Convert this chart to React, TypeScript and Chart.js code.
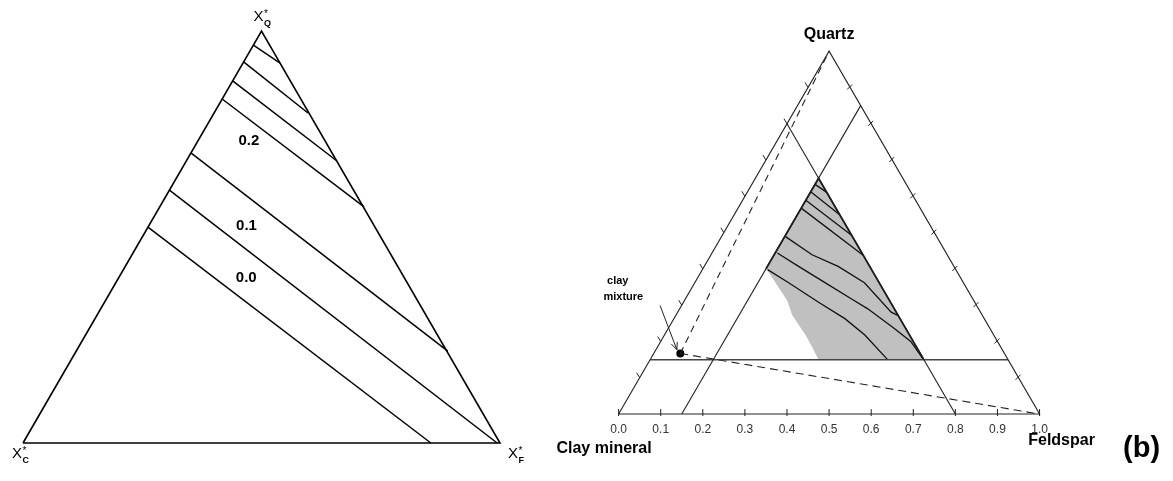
import React, { useEffect, useRef } from 'react';
import { Chart, registerables } from 'chart.js';

Chart.register(...registerables);

// ---------------- Panel (a): normalised sub-triangle (X*_C, X*_F, X*_Q) ----------------
// each contour starts on the X*_F = 0 edge and ends on the right edge or the base
const contourStartQ = [0.966, 0.925, 0.879, 0.835, 0.704, 0.614, 0.524];
const contourEndF = [0.078, 0.197, 0.316, 0.4285, 0.779, 0.994, 0.855];
const contourEndQ = [0.922, 0.801, 0.6845, 0.573, 0.223, 0.0, 0.0];
const regionLabels = ['0.2', '0.1', '0.0'];
const regionLabelF = [0.107, 0.205, 0.267];
const regionLabelQ = [0.733, 0.527, 0.402];

// ---------------- Panel (b): Clay mineral – Feldspar – Quartz ----------------
const axisTicks = [0.0, 0.1, 0.2, 0.3, 0.4, 0.5, 0.6, 0.7, 0.8, 0.9, 1.0];
const axisTickLabels = ['0.0', '0.1', '0.2', '0.3', '0.4', '0.5', '0.6', '0.7', '0.8', '0.9', '1.0'];
const edgeTicks = [0.1, 0.2, 0.3, 0.4, 0.5, 0.6, 0.7, 0.8, 0.9];
// limits of the feasible sub-triangle
const limitF = 0.15;
const limitC = 0.2;
const limitQ = 0.15;
// grey region: its lower-left boundary (F, Q)
const greyEdgeF = [0.15, 0.163, 0.215, 0.2445, 0.2765, 0.335, 0.366, 0.4];
const greyEdgeQ = [0.4, 0.389, 0.34, 0.3125, 0.272, 0.218, 0.186, 0.15];
// contour lines in (b): the three lower ones
const bLine5F = [0.152, 0.24, 0.318, 0.403, 0.507, 0.527];
const bLine5Q = [0.489, 0.439, 0.407, 0.362, 0.281, 0.272];
const bLine6F = [0.155, 0.224, 0.3, 0.395, 0.447, 0.537, 0.594, 0.644];
const bLine6Q = [0.444, 0.407, 0.367, 0.317, 0.29, 0.236, 0.2, 0.155];
const bLine7F = [0.155, 0.223, 0.321, 0.406, 0.476, 0.564];
const bLine7Q = [0.398, 0.362, 0.308, 0.263, 0.218, 0.15];
// clay mixture composition
const clayMixF = 0.063;
const clayMixQ = 0.167;
// annotation arrow (F, Q) tail -> head and the label anchors
const arrowF = [-0.051, 0.05];
const arrowQ = [0.299, 0.177];
const mixLabels = ['clay', 'mixture'];
const mixLabelF = [-0.185, -0.15];
const mixLabelQ = [0.366, 0.3225];

const FONT = '"Liberation Sans", Arial, Helvetica, sans-serif';

type Pt = { x: number; y: number };
const tern = (F: number, Q: number): Pt => ({ x: F + Q / 2, y: Q });
const SUB = 1 - limitF - limitC - limitQ;
const subToFull = (fs: number, qs: number): Pt => tern(limitF + SUB * fs, limitQ + SUB * qs);

const lineDs = (data: Pt[], extra: any = {}) => ({
  data,
  showLine: true,
  borderColor: '#000',
  borderWidth: 1.5,
  pointRadius: 0,
  fill: false,
  tension: 0,
  ...extra,
});

const baseOptions = (xmin: number, xmax: number, ymin: number, ymax: number) => ({
  animation: false,
  responsive: false,
  maintainAspectRatio: false,
  events: [],
  layout: { padding: 0 },
  plugins: { legend: { display: false }, tooltip: { enabled: false }, title: { display: false } },
  scales: {
    x: { type: 'linear', min: xmin, max: xmax, display: false },
    y: { type: 'linear', min: ymin, max: ymax, display: false },
  },
});

function pixel(chart: any, p: Pt): [number, number] {
  return [chart.scales.x.getPixelForValue(p.x), chart.scales.y.getPixelForValue(p.y)];
}

function drawXStar(ctx: CanvasRenderingContext2D, x: number, base: number, sub: string) {
  ctx.textAlign = 'left';
  ctx.textBaseline = 'alphabetic';
  ctx.font = `15px ${FONT}`;
  ctx.fillText('X', x, base);
  const w = ctx.measureText('X').width;
  ctx.font = `10px ${FONT}`;
  ctx.fillText('*', x + w + 0.5, base - 4.5);
  ctx.font = `bold 9px ${FONT}`;
  ctx.fillText(sub, x + w + 0.5, base + 4.5);
}

// ---------------- configs ----------------
function makeA() {
  const datasets: any[] = [
    lineDs([tern(0, 0), tern(1, 0), tern(0, 1), tern(0, 0)], { borderWidth: 1.6 }),
  ];
  contourStartQ.forEach((q, i) => {
    datasets.push(lineDs([tern(0, q), tern(contourEndF[i], contourEndQ[i])], { borderWidth: 1.5 }));
  });
  const plugin = {
    id: 'aDecor',
    afterDatasetsDraw(chart: any) {
      const ctx: CanvasRenderingContext2D = chart.ctx;
      ctx.save();
      ctx.fillStyle = '#000';
      const [qx, qy] = pixel(chart, tern(0, 1));
      const [cx, cy] = pixel(chart, tern(0, 0));
      const [fx, fy] = pixel(chart, tern(1, 0));
      drawXStar(ctx, qx - 8, qy - 10, 'Q');
      drawXStar(ctx, cx - 11, cy + 15, 'C');
      drawXStar(ctx, fx + 8, fy + 15, 'F');
      ctx.font = `bold 15px ${FONT}`;
      ctx.textAlign = 'center';
      ctx.textBaseline = 'middle';
      regionLabels.forEach((t, i) => {
        const [x, y] = pixel(chart, tern(regionLabelF[i], regionLabelQ[i]));
        ctx.fillText(t, x, y);
      });
      ctx.restore();
    },
  };
  return {
    type: 'scatter',
    data: { datasets },
    options: baseOptions(-23 / 477, 537 / 477, -38 / 412, 443 / 412),
    plugins: [plugin],
  } as any;
}

function makeB() {
  const dark = '#222';
  const datasets: any[] = [];
  // outer triangle
  datasets.push(lineDs([tern(0, 0), tern(1, 0), tern(0, 1), tern(0, 0)], { borderWidth: 1.1, borderColor: dark }));
  // limit lines
  datasets.push(lineDs([tern(limitF, 0), tern(limitF, 1 - limitF)], { borderWidth: 1.1, borderColor: dark }));
  datasets.push(lineDs([tern(0, 1 - limitC), tern(1 - limitC, 0)], { borderWidth: 1.1, borderColor: dark }));
  datasets.push(lineDs([tern(0, limitQ), tern(1 - limitQ, limitQ)], { borderWidth: 1.5, borderColor: '#444' }));
  // bold edges of the grey region
  datasets.push(
    lineDs([tern(limitF, greyEdgeQ[0]), subToFull(0, 1), subToFull(1, 0)], { borderWidth: 1.8, borderColor: '#111' })
  );
  // contour lines 1-4 (mapped from the normalised panel)
  for (let i = 0; i < 4; i++) {
    datasets.push(
      lineDs([subToFull(0, contourStartQ[i]), subToFull(contourEndF[i], contourEndQ[i])], {
        borderWidth: 1.3,
        borderColor: '#111',
      })
    );
  }
  [
    [bLine5F, bLine5Q],
    [bLine6F, bLine6Q],
    [bLine7F, bLine7Q],
  ].forEach(([fs, qs]) => {
    datasets.push(lineDs(fs.map((f, k) => tern(f, qs[k])), { borderWidth: 1.3, borderColor: '#111' }));
  });
  // dashed lines from the clay mixture to quartz and feldspar apexes
  const mix = tern(clayMixF, clayMixQ);
  datasets.push(lineDs([mix, tern(0, 1)], { borderWidth: 1.1, borderColor: dark, borderDash: [7, 5] }));
  datasets.push(lineDs([mix, tern(1, 0)], { borderWidth: 1.1, borderColor: dark, borderDash: [8, 5] }));
  // clay mixture point
  datasets.push({ data: [mix], showLine: false, pointRadius: 4, backgroundColor: '#000', borderColor: '#000', borderWidth: 0 });
  // grey feasible region (drawn first, at the bottom)
  const grey: Pt[] = [subToFull(0, 1)];
  greyEdgeF.forEach((f, k) => grey.push(tern(f, greyEdgeQ[k])));
  grey.push(subToFull(1, 0));
  grey.push(subToFull(0, 1));
  datasets.push({
    data: grey,
    showLine: true,
    pointRadius: 0,
    borderWidth: 1,
    borderColor: 'rgba(0,0,0,0)',
    backgroundColor: '#c0c0c0',
    fill: 'shape',
    tension: 0,
  });

  const plugin = {
    id: 'bDecor',
    afterDatasetsDraw(chart: any) {
      const ctx: CanvasRenderingContext2D = chart.ctx;
      ctx.save();
      ctx.strokeStyle = dark;
      ctx.lineWidth = 1;
      const seg = (x1: number, y1: number, x2: number, y2: number) => {
        ctx.beginPath();
        ctx.moveTo(x1, y1);
        ctx.lineTo(x2, y2);
        ctx.stroke();
      };
      // bottom axis ticks & labels
      ctx.fillStyle = '#333';
      ctx.font = `12px ${FONT}`;
      ctx.textAlign = 'center';
      ctx.textBaseline = 'middle';
      axisTicks.forEach((t, i) => {
        const [x, y] = pixel(chart, tern(t, 0));
        seg(x, y - 5, x, y + 2);
        ctx.fillText(axisTickLabels[i], x, y + 16);
      });
      // side ticks
      edgeTicks.forEach((q) => {
        const [lx, ly] = pixel(chart, tern(0, q));
        seg(lx, ly, lx - 3, ly - 5);
        const [rx, ry] = pixel(chart, tern(1 - q, q));
        seg(rx - 3, ry + 2, rx + 2, ry - 3);
      });
      // arrow
      const [ax1, ay1] = pixel(chart, tern(arrowF[0], arrowQ[0]));
      const [ax2, ay2] = pixel(chart, tern(arrowF[1], arrowQ[1]));
      seg(ax1, ay1, ax2, ay2);
      const ang = Math.atan2(ay2 - ay1, ax2 - ax1);
      const hl = 8;
      seg(ax2, ay2, ax2 - hl * Math.cos(ang - 0.4), ay2 - hl * Math.sin(ang - 0.4));
      seg(ax2, ay2, ax2 - hl * Math.cos(ang + 0.4), ay2 - hl * Math.sin(ang + 0.4));
      // titles
      ctx.fillStyle = '#000';
      const [qx, qy] = pixel(chart, tern(0, 1));
      const [cx, cy] = pixel(chart, tern(0, 0));
      const [fx, fy] = pixel(chart, tern(1, 0));
      ctx.font = `bold 16px ${FONT}`;
      ctx.textAlign = 'center';
      ctx.fillText('Quartz', qx, qy - 17);
      ctx.fillText('Feldspar', fx + 22, fy + 27);
      ctx.textAlign = 'right';
      ctx.fillText('Clay mineral', cx + 33, cy + 35);
      ctx.textAlign = 'center';
      ctx.font = `bold 29px ${FONT}`;
      ctx.fillText('(b)', fx + 102, fy + 35);
      ctx.font = `bold 11px ${FONT}`;
      mixLabels.forEach((t, i) => {
        const [x, y] = pixel(chart, tern(mixLabelF[i], mixLabelQ[i]));
        ctx.fillText(t, x, y);
      });
      ctx.restore();
    },
  };
  return {
    type: 'scatter',
    data: { datasets },
    options: baseOptions(-116 / 426, 557 / 426, -64 / 369, 417 / 369),
    plugins: [plugin],
  } as any;
}

function TernaryCanvas({ left, width, make }: { left: number; width: number; make: () => any }) {
  const ref = useRef<HTMLCanvasElement>(null);
  useEffect(() => {
    const chart = new Chart(ref.current as HTMLCanvasElement, make());
    return () => chart.destroy();
  }, []);
  return (
    <canvas
      ref={ref}
      width={width}
      height={481}
      style={{ position: 'absolute', left, top: 0, width, height: 481 }}
    />
  );
}

export default function App() {
  return (
    <div style={{ position: 'absolute', left: 0, top: 0, width: 1173, height: 481, background: '#fff', overflow: 'hidden' }}>
      <TernaryCanvas left={0} width={560} make={makeA} />
      <TernaryCanvas left={500} width={673} make={makeB} />
    </div>
  );
}
